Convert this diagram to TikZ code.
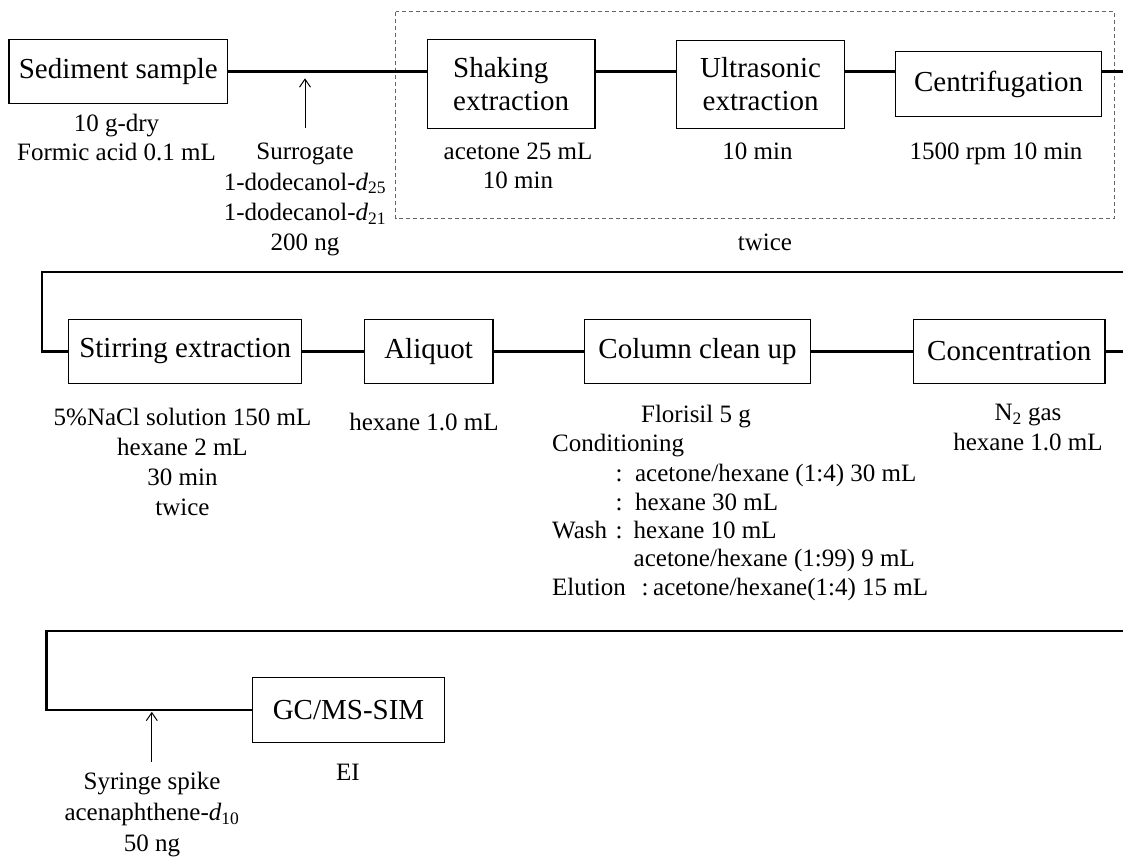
\documentclass[tikz,border=0pt]{standalone}
\usepackage{fontspec}
\setmainfont{Liberation Serif}
\usetikzlibrary{arrows.meta}
\newcommand{\boxfont}{\fontsize{29}{33.4}\selectfont}
\newcommand{\lblfont}{\fontsize{25}{30}\selectfont}
\begin{document}
\begin{tikzpicture}[x=1pt,y=-1pt,
  procbox/.style={draw=black, line width=1.3pt, inner sep=0pt, font=\boxfont, align=center},
  conn/.style={line width=2.4pt},
  lbl/.style={inner sep=0pt, anchor=north, align=center, font=\lblfont},
  lblL/.style={inner sep=0pt, anchor=base west, font=\lblfont},
  spike/.style={line width=1pt, -{Straight Barb[length=8pt,width=11pt]}},
  grp/.style={draw=gray!80!black, line width=1.2pt, dash pattern=on 4pt off 3pt}]
\useasboundingbox (0,0) rectangle (1123,857);

% ---------- row 1 ----------
\node[procbox, minimum width=218.5pt, minimum height=64pt] (sed) at (118.3,71.5) {Sediment sample};
\node[procbox, align=left, minimum width=167.3pt, minimum height=89pt] (shake) at (511.2,84) {Shaking\\extraction};
\node[procbox, minimum width=167.7pt, minimum height=88pt] (ultra) at (760.6,84.3) {Ultrasonic\\extraction};
\node[procbox, minimum width=205.8pt, minimum height=65pt] (centr) at (998.6,84.2) {Centrifugation};

\draw[grp] (395.7,11.7) rectangle (1114.8,218.3);

\coordinate (r1end) at (1123,71.5);
\draw[conn] (sed.east) -- (sed.east -| shake.west);
\draw[conn] (sed.east -| shake.east) -- (sed.east -| ultra.west);
\draw[conn] (sed.east -| ultra.east) -- (sed.east -| centr.west);
\draw[conn] (sed.east -| centr.east) -- (r1end);

\coordinate (sa) at (305,128.3);
\coordinate (sat) at (305,78.3);
\draw[spike] (sa) -- (sat);

\node[lbl, font=\fontsize{25}{29.3}\selectfont] (g1) at (116.5,110.5) {\strut 10 g-dry\\Formic acid 0.1 mL};
\node[lbl, font=\fontsize{25}{30.2}\selectfont] (sur) at (305,138.6) {\strut Surrogate\\1-dodecanol-\textit{d}\textsubscript{25}\\1-dodecanol-\textit{d}\textsubscript{21}\\200 ng};
\node[lbl, font=\fontsize{25}{29.7}\selectfont] (shakelbl) at (518,138.2) {\strut acetone 25 mL\\10 min};
\node[lbl] (ultralbl) at (757.5,138) {\strut 10 min};
\node[lbl] (centrlbl) at (996,138) {\strut 1500 rpm 10 min};
\node[lbl] (twice1) at (765,229.3) {\strut twice};

% ---------- row 2 ----------
\node[procbox, minimum width=233.2pt, minimum height=63.4pt] (stir) at (185.2,351.5) {Stirring extraction};
\node[procbox, minimum width=128.6pt, minimum height=63.4pt] (aliq) at (428.6,351.5) {Aliquot};
\node[procbox, minimum width=225.7pt, minimum height=63.4pt] (col) at (697.5,351.5) {Column clean up};
\node[procbox, minimum width=191.4pt, minimum height=63.4pt] (conc) at (1009.3,351.5) {Concentration};

\coordinate (r2r) at (1123,271.7);
\coordinate (r2l) at (42,271.7);
\draw[conn] (r2r) -- (r2l) |- (stir.west);
\draw[conn] (stir.east) -- (aliq.west);
\draw[conn] (aliq.east) -- (col.west);
\draw[conn] (col.east) -- (conc.west);
\coordinate (r2end) at (1123,351.5);
\draw[conn] (conc.east) -- (r2end);

\node[lbl] (stirlbl) at (182.5,404) {\strut 5\%NaCl solution 150 mL\\hexane 2 mL\\30 min\\twice};
\node[lbl] (aliqlbl) at (424,409) {\strut hexane 1.0 mL};
\node[lbl] (flor) at (696,401) {\strut Florisil 5 g};
\node[lblL] (cond) at (552,451) {Conditioning};
\node[lblL] (cond1) at (552,481) {\hspace*{63.5pt}:\hspace*{12.5pt}acetone/hexane (1:4) 30 mL};
\node[lblL] (cond2) at (552,510) {\hspace*{63.5pt}:\hspace*{12.5pt}hexane 30 mL};
\node[lblL] (wash1) at (552,538) {\makebox[63.5pt][l]{Wash}:\hspace*{11pt}hexane 10 mL};
\node[lblL] (wash2) at (552,566) {\hspace*{81.5pt}acetone/hexane (1:99) 9 mL};
\node[lblL] (elu) at (552,595) {\makebox[89.5pt][l]{Elution}:\hspace*{4.5pt}acetone/hexane(1:4) 15 mL};
\node[lbl] (conclbl) at (1028,399.3) {\strut N\textsubscript{2} gas\\hexane 1.0 mL};

% ---------- row 3 ----------
\node[procbox, minimum width=192pt, minimum height=64.6pt] (gc) at (348.5,710) {GC/MS-SIM};
\coordinate (r3r) at (1123,630.7);
\coordinate (r3l) at (46.4,630.7);
\draw[conn] (r3r) -- (r3l) |- (gc.west);

\coordinate (ya) at (151.8,761.7);
\coordinate (yat) at (151.8,711.8);
\draw[spike] (ya) -- (yat);

\node[lbl, font=\fontsize{25}{31}\selectfont] (syr) at (152,767.5) {\strut Syringe spike\\acenaphthene-\textit{d}\textsubscript{10}\\50 ng};
\node[lbl] (ei) at (348,759.3) {\strut EI};
\end{tikzpicture}
\end{document}
